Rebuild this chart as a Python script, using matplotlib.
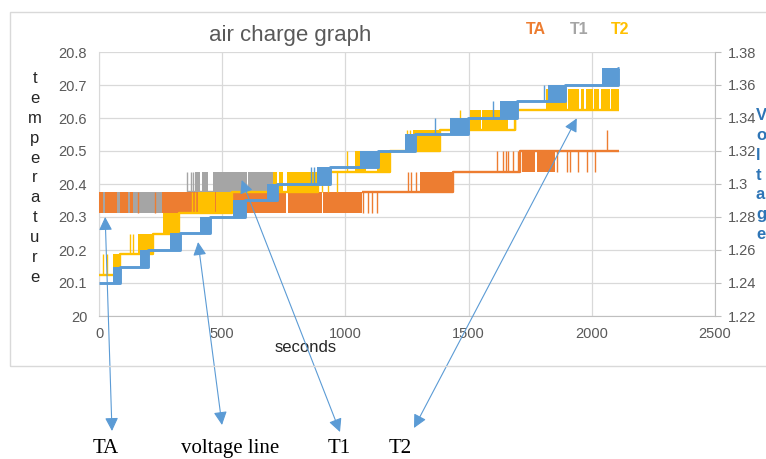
import numpy as np
import matplotlib.pyplot as plt
from matplotlib.patches import Rectangle
from matplotlib.ticker import FuncFormatter

W, H = 766, 459
C_TA, C_T1, C_T2, C_V = '#ED7D31', '#A5A5A5', '#FFC000', '#5B9BD5'
GREY_TXT = '#595959'

# %% data
# temperature levels come in 1/16 degree steps
a, b, c, d, e = 20.3125, 20.375, 20.4375, 20.5, 20.5625

# TA: flat level lines, dense oscillation blocks (x0, x1, lo, hi), single spikes (x, lo, hi)
ta_step_x = [1067, 1437, 1709, 2109]
ta_step_y = [b, c, d, d]
ta_blocks = [(0, 17, a, b), (25, 73, a, b), (85, 119, a, b), (126, 136, a, b),
             (256, 760, a, b), (766, 905, a, b), (911, 1067, a, b),
             (1303, 1437, b, c),
             (1717, 1770, c, d), (1776, 1851, c, d)]
ta_spikes = [(160, a, b), (228, a, b), (1072, a, b), (1092, a, b), (1108, a, b), (1128, a, b),
             (1254, b, c), (1267, b, c), (1285, b, c),
             (1615, c, d), (1640, c, d), (1650, c, d), (1660, c, d), (1681, c, d), (1700, c, d),
             (1859, c, d), (1899, c, d), (1912, c, d), (1944, c, d), (1980, c, d), (2013, c, d),
             (2062, d, e)]

# T1: only visible up to ~714 s
t1_step_x = [357, 714]
t1_step_y = [b, b]
t1_blocks = [(0, 714, a, b), (390, 410, b, c), (418, 443, b, c), (463, 600, b, c), (606, 714, b, c)]
t1_spikes = [(357, b, c), (372, b, c), (380, b, c)]

# T2
l0, l1, l2, l3, l4, l5, l6, l7, l8, l9 = 20.125, 20.1875, 20.25, 20.3125, 20.375, 20.4375, 20.5, 20.5625, 20.625, 20.6875
t2_step_x = [0, 85, 219, 325, 538, 890, 1181, 1384, 1688, 2109]
t2_step_y = [l0, l1, l2, l3, l4, l5, l6, l7, l8, l8]
t2_blocks = [(57, 85, l0, l1), (160, 219, l1, l2), (261, 325, l2, l3),
             (400, 470, l3, l4), (476, 538, l3, l4),
             (707, 722, l4, l5), (730, 745, l4, l5), (762, 890, l4, l5),
             (1040, 1082, l5, l6), (1128, 1181, l5, l6),
             (1275, 1384, l6, l7),
             (1506, 1550, l7, l8), (1556, 1660, l7, l8),
             (1814, 1900, l8, l9), (1905, 1950, l8, l9), (1955, 1970, l8, l9), (1975, 2003, l8, l9),
             (2008, 2031, l8, l9), (2036, 2072, l8, l9), (2077, 2109, l8, l9)]
t2_spikes = [(17, l0, l1), (32, l0, l1), (126, l1, l2), (139, l1, l2), (377, l3, l4), (390, l3, l4),
             (905, l4, l5), (930, l4, l5), (966, l4, l5), (1006, l5, l6),
             (1250, l6, l7), (1262, l6, l7), (1465, l7, l8), (1688, l7, l8), (1818, l8, l9)]

# voltage (right axis)
v_step_x = [0, 85, 200, 329, 450, 593, 721, 937, 1132, 1282, 1498, 1696, 1891, 2106, 2112]
v_step_y = [1.24, 1.25, 1.26, 1.27, 1.28, 1.29, 1.30, 1.31, 1.32, 1.33, 1.34, 1.35, 1.36, 1.37, 1.37]
v_blocks = [(57, 85, 1.24, 1.25), (166, 200, 1.25, 1.26), (288, 329, 1.26, 1.27), (410, 450, 1.27, 1.28),
            (544, 593, 1.28, 1.29), (680, 721, 1.29, 1.30), (884, 937, 1.30, 1.31), (1059, 1132, 1.31, 1.32),
            (1242, 1282, 1.32, 1.33), (1424, 1498, 1.33, 1.34), (1627, 1696, 1.34, 1.35),
            (1822, 1891, 1.35, 1.36), (2041, 2106, 1.36, 1.37)]
v_spikes = [(862, 1.30, 1.31), (872, 1.30, 1.31), (1364, 1.33, 1.34), (1600, 1.34, 1.35), (1806, 1.35, 1.36)]

x_ticks = [0, 500, 1000, 1500, 2000, 2500]
t_ticks = [20, 20.1, 20.2, 20.3, 20.4, 20.5, 20.6, 20.7, 20.8]
v_ticks = [1.22, 1.24, 1.26, 1.28, 1.3, 1.32, 1.34, 1.36, 1.38]

# arrows: (label, tip in data coords of left axis, tail in image pixels, label x in image pixels)
notes = [('TA', (25, 20.30), (112, 431), 106),
         ('voltage line', (402, 20.224), (222, 425), 230),
         ('T1', (579, 20.412), (340, 432), 339),
         ('T2', (1939, 20.599), (414, 428), 400)]


# %% helpers
def fx(px):
    return px / W


def fy(py):
    return 1 - py / H


def draw_series(a_, step_x, step_y, blocks, spikes, color, lw, label=None, z=2):
    line, = a_.plot(step_x, step_y, drawstyle='steps-post', color=color, lw=lw,
                    label=label, zorder=z, solid_capstyle='butt')
    for x0, x1, lo, hi in blocks:
        a_.fill_between([x0, x1], lo, hi, color=color, lw=0, zorder=z)
    sx, slo, shi = zip(*spikes)
    a_.vlines(sx, slo, shi, color=color, lw=1.0, zorder=z)
    return line


# %% figure
fig = plt.figure(figsize=(W / 100, H / 100), dpi=100)
plt.rcParams['font.family'] = ['Liberation Sans', 'DejaVu Sans']

fig.patches.append(Rectangle((fx(10), fy(366)), fx(780) - fx(10), fy(12) - fy(366),
                             transform=fig.transFigure, fill=False, ec='#D9D9D9', lw=1.0))

ax = fig.add_axes([fx(99), fy(316), fx(715) - fx(99), fy(52) - fy(316)])
ax2 = ax.twinx()

h1 = draw_series(ax, t1_step_x, t1_step_y, t1_blocks, t1_spikes, C_T1, 1.7, 'T1', z=2)
h0 = draw_series(ax, ta_step_x, ta_step_y, ta_blocks, ta_spikes, C_TA, 1.7, 'TA', z=3)
h2 = draw_series(ax, t2_step_x, t2_step_y, t2_blocks, t2_spikes, C_T2, 1.7, 'T2', z=4)
draw_series(ax2, v_step_x, v_step_y, v_blocks, v_spikes, C_V, 2.1, 'voltage', z=5)

ax.set_xlim(0, 2500)
ax.set_ylim(20, 20.8)
ax2.set_ylim(1.22, 1.38)
ax.set_xticks(x_ticks)
ax.set_yticks(t_ticks)
ax2.set_yticks(v_ticks)
fmt = FuncFormatter(lambda v, p: f'{round(v, 3):g}')
ax.yaxis.set_major_formatter(fmt)
ax2.yaxis.set_major_formatter(fmt)

ax.grid(True, color='#D9D9D9', lw=0.9)
ax.set_axisbelow(True)
ax.tick_params(axis='y', length=0, pad=8.5, labelsize=10.5, labelcolor=GREY_TXT)
ax.tick_params(axis='x', length=0, pad=8, labelsize=10.5, labelcolor=GREY_TXT)
ax2.tick_params(axis='y', length=4, width=0.8, color='#BFBFBF', pad=5.5, labelsize=10.5, labelcolor=GREY_TXT)
for s in ['top', 'right']:
    ax.spines[s].set_visible(False)
ax.spines['left'].set_color('#D9D9D9')
ax.spines['bottom'].set_color('#BFBFBF')
for s in ['top', 'left', 'bottom']:
    ax2.spines[s].set_visible(False)
ax2.spines['right'].set_color('#BFBFBF')

ax.set_title('air charge graph', fontsize=16, color=GREY_TXT, x=(290 - 99) / 616, y=1.0, pad=8)

ax.set_xlabel('seconds', fontsize=12, color='#262626', va='center')
ax.xaxis.set_label_coords((306 - 99) / 616, (316 - 348) / 264)
ax.set_ylabel('\n'.join('temperature'), rotation=0, fontsize=12, color='#262626',
              ha='center', va='center', linespacing=1.41)
ax.yaxis.set_label_coords((35 - 99) / 616, (316 - 178) / 264)
ax2.set_ylabel('\n'.join('Voltage'), rotation=0, fontsize=12, color='#2E75B6', fontweight='bold',
               ha='left', va='center', linespacing=1.4)
ax2.yaxis.set_label_coords((756 - 99) / 616, (316 - 175) / 264)

fig.legend(handles=[h0, h1, h2], loc='center', bbox_to_anchor=(fx(578), fy(30)), ncol=3,
           frameon=False, handlelength=0, handletextpad=0, columnspacing=1.45,
           labelcolor='linecolor', prop={'weight': 'bold', 'size': 11.5})

for label, tip, tail, lx in notes:
    ax2.annotate('', xy=tip, xycoords=ax.transData, xytext=(tail[0], H - tail[1]),
                 textcoords='figure pixels', annotation_clip=False, zorder=10,
                 arrowprops=dict(arrowstyle='<|-|>,head_length=0.8,head_width=0.4',
                                 color=C_V, lw=0.8, shrinkA=0, shrinkB=0))
    fig.text(fx(lx), fy(453), label, ha='center', va='baseline', fontsize=15,
             family='Liberation Serif', color='black')

fig.savefig('out.png', dpi=100)
